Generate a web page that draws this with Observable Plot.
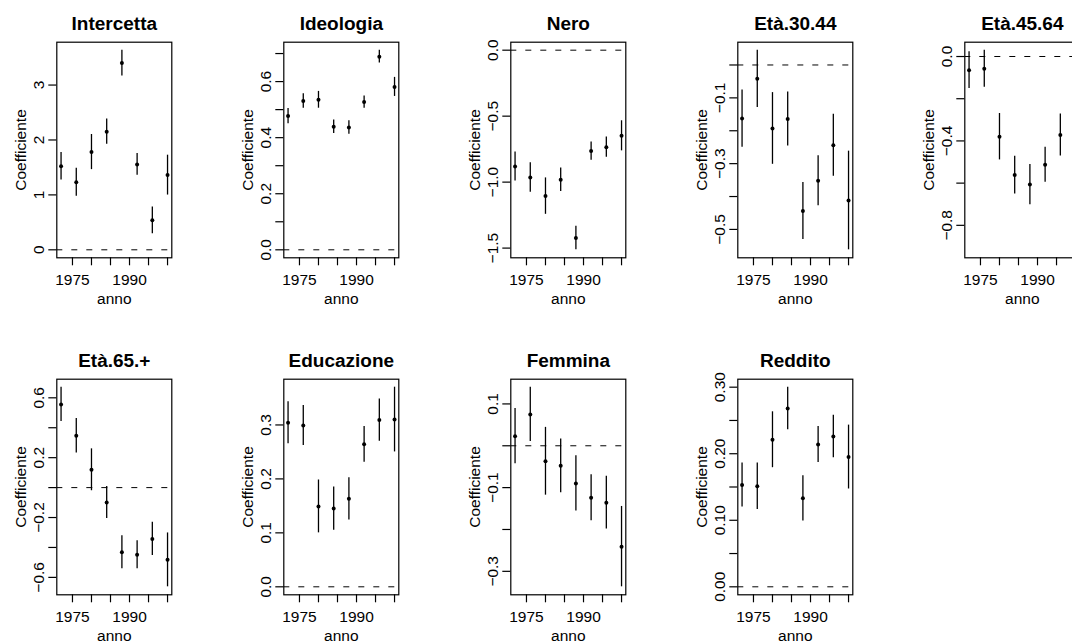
<!DOCTYPE html>
<html><head><meta charset="utf-8">
<script src="https://cdn.jsdelivr.net/npm/d3@7"></script>
<script src="https://cdn.jsdelivr.net/npm/@observablehq/plot@0.6"></script>
<style>
body{margin:0;background:#fff;}
#fig{position:relative;width:1072px;height:643px;overflow:hidden;background:#fff;font-family:"Liberation Sans",Arial,Helvetica,sans-serif;}
.panel{position:absolute;width:227px;}
.panel svg{max-width:none !important;}
</style></head><body><div id="fig"></div>
<script>
// ---- data ----
const anni = [1972, 1976, 1980, 1984, 1988, 1992, 1996, 2000];
const xTicks = [1975, 1980, 1985, 1990, 1995, 2000];
const xLabels = [1975, 1990];

const intercettaStima = [1.52, 1.23, 1.78, 2.15, 3.40, 1.555, 0.537, 1.36];
const intercettaErr   = [0.25, 0.253, 0.32, 0.23, 0.235, 0.198, 0.244, 0.363];
const ideologiaStima  = [0.477, 0.531, 0.535, 0.439, 0.436, 0.527, 0.689, 0.581];
const ideologiaErr    = [0.027, 0.026, 0.030, 0.024, 0.024, 0.022, 0.023, 0.034];
const neroStima       = [-0.881, -0.965, -1.106, -0.982, -1.424, -0.765, -0.735, -0.649];
const neroErr         = [0.110, 0.111, 0.138, 0.090, 0.089, 0.070, 0.077, 0.114];
const eta3044Stima    = [-0.163, -0.042, -0.193, -0.164, -0.444, -0.352, -0.244, -0.412];
const eta3044Err      = [0.087, 0.087, 0.109, 0.082, 0.087, 0.076, 0.094, 0.150];
const eta4564Stima    = [-0.065, -0.058, -0.380, -0.562, -0.607, -0.513, -0.372, -0.716];
const eta4564Err      = [0.087, 0.088, 0.110, 0.089, 0.095, 0.083, 0.100, 0.200];
const eta65Stima      = [0.556, 0.347, 0.119, -0.099, -0.432, -0.449, -0.343, -0.483];
const eta65Err        = [0.115, 0.115, 0.140, 0.107, 0.111, 0.093, 0.111, 0.180];
const educazioneStima = [0.304, 0.299, 0.149, 0.145, 0.163, 0.264, 0.309, 0.310];
const educazioneErr   = [0.039, 0.037, 0.049, 0.040, 0.039, 0.033, 0.039, 0.060];
const femminaStima    = [0.023, 0.075, -0.037, -0.048, -0.090, -0.124, -0.136, -0.241];
const femminaErr      = [0.066, 0.065, 0.081, 0.064, 0.066, 0.055, 0.063, 0.096];
const redditoStima    = [0.153, 0.151, 0.221, 0.268, 0.133, 0.214, 0.226, 0.195];
const redditoErr      = [0.033, 0.035, 0.042, 0.032, 0.034, 0.027, 0.032, 0.048];

const titoli = ["Intercetta", "Ideologia", "Nero", "Età.30.44", "Età.45.64", "Età.65.+", "Educazione", "Femmina", "Reddito"];
const yTicks = [
  [0, 1, 2, 3],
  [0, 0.1, 0.2, 0.3, 0.4, 0.5, 0.6, 0.7],
  [0, -0.5, -1, -1.5],
  [0, -0.1, -0.2, -0.3, -0.4, -0.5],
  [0, -0.2, -0.4, -0.6, -0.8],
  [0.6, 0.4, 0.2, 0, -0.2, -0.4, -0.6],
  [0, 0.1, 0.2, 0.3],
  [0.1, 0, -0.1, -0.2, -0.3],
  [0, 0.05, 0.1, 0.15, 0.2, 0.25, 0.3]
];
const yLabels = [
  [0, 1, 2, 3],
  [0, 0.2, 0.4, 0.6],
  [0, -0.5, -1, -1.5],
  [-0.1, -0.3, -0.5],
  [0, -0.4, -0.8],
  [0.6, 0.2, -0.2, -0.6],
  [0, 0.1, 0.2, 0.3],
  [0.1, -0.1, -0.3],
  [0, 0.1, 0.2, 0.3]
];
const yFormati = ["d", ".1f", ".1f", ".1f", ".1f", ".1f", ".1f", ".1f", ".2f"];
const stime = [intercettaStima, ideologiaStima, neroStima, eta3044Stima, eta4564Stima, eta65Stima, educazioneStima, femminaStima, redditoStima];
const errori = [intercettaErr, ideologiaErr, neroErr, eta3044Err, eta4564Err, eta65Err, educazioneErr, femminaErr, redditoErr];

// ---- layout ----
const colW = 227, rowH = 336.6;
const mL = 56.3, boxW = 115, mT = 41.7, boxH = 215.6;
const fig = document.getElementById("fig");
const font = "'Liberation Sans', Arial, Helvetica, sans-serif";

titoli.forEach((titolo, i) => {
  const col = i % 5, row = Math.floor(i / 5);
  const data = anni.map((a, j) => ({anno: a, stima: stime[i][j], lo: stime[i][j] - errori[i][j], hi: stime[i][j] + errori[i][j]}));
  const ymin = Math.min(0, d3.min(data, d => d.lo));
  const ymax = Math.max(0, d3.max(data, d => d.hi));
  const py = 0.04 * (ymax - ymin);
  const px = 0.04 * (d3.max(anni) - d3.min(anni));
  const fmt = d3.format(yFormati[i]);
  const svg = Plot.plot({
    width: colW, height: rowH,
    marginLeft: mL, marginRight: colW - mL - boxW,
    marginTop: mT, marginBottom: rowH - mT - boxH,
    style: {fontFamily: font, fontSize: "15.5px", color: "black", background: "white", overflow: "visible", maxWidth: "none"},
    x: {domain: [d3.min(anni) - px, d3.max(anni) + px]},
    y: {domain: [ymin - py, ymax + py]},
    marks: [
      Plot.ruleY([0], {stroke: "black", strokeWidth: 1, strokeDasharray: "6,9"}),
      Plot.ruleX(data, {x: "anno", y1: "lo", y2: "hi", stroke: "black", strokeWidth: 1.3}),
      Plot.dot(data, {x: "anno", y: "stima", r: 2, fill: "black"}),
      Plot.frame({stroke: "black", strokeWidth: 1.2}),
      Plot.axisX({ticks: xTicks, tickSize: 8, tickPadding: 8, tickFormat: d => xLabels.includes(d) ? String(d) : "", label: null, stroke: "black", strokeWidth: 1.2}),
      Plot.axisY({ticks: yTicks[i], tickSize: 8, tickFormat: () => "", label: null, stroke: "black", strokeWidth: 1.2}),
      Plot.text(yLabels[i], {y: d => d, text: d => fmt(d), frameAnchor: "left", rotate: -90, textAnchor: "middle", lineAnchor: "bottom", dx: -12.7}),
      Plot.text(["Coefficiente"], {text: d => d, frameAnchor: "left", rotate: -90, textAnchor: "middle", lineAnchor: "bottom", dx: -30.5}),
      Plot.text(["anno"], {text: d => d, frameAnchor: "bottom", lineAnchor: "bottom", dy: 46}),
      Plot.text([titolo], {text: d => d, frameAnchor: "top", lineAnchor: "bottom", dy: -12.4, fontWeight: "bold", fontSize: 19})
    ]
  });
  const div = document.createElement("div");
  div.className = "panel";
  div.style.left = (col * colW) + "px";
  div.style.top = (row * rowH) + "px";
  div.appendChild(svg);
  fig.appendChild(div);
});
</script>
</body></html>
